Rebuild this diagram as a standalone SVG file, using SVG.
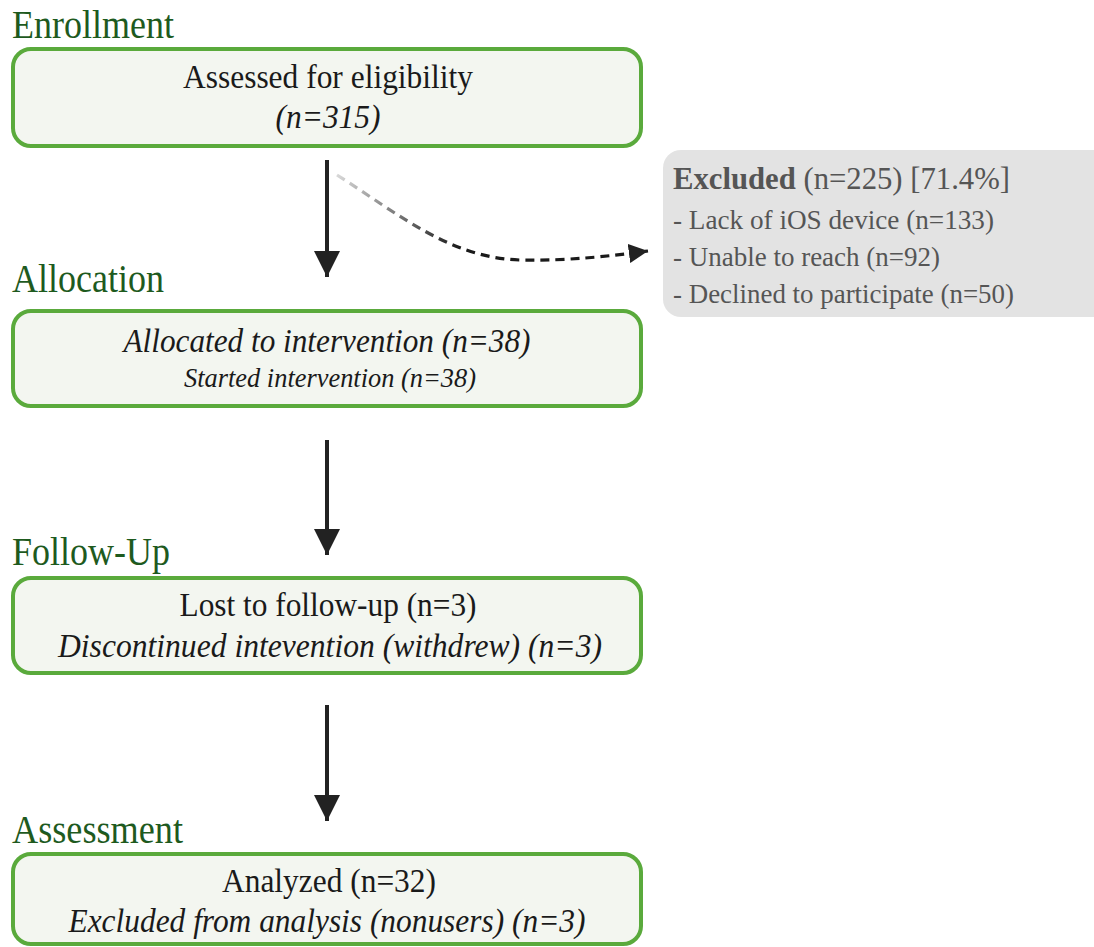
<svg xmlns="http://www.w3.org/2000/svg" width="1094" height="947" viewBox="0 0 1094 947">
<defs>
<style>
.hd{font-family:"Liberation Serif","Times New Roman",serif;font-size:39px;fill:#1e5a1e;}
.box{fill:#f3f6f0;stroke:#5aaa3c;stroke-width:4;}
.t{font-family:"Liberation Serif","Times New Roman",serif;font-size:34px;fill:#1a1a1a;text-anchor:middle;}
.it{font-style:italic;}
.ex{font-family:"Liberation Serif","Times New Roman",serif;font-size:28px;fill:#555555;}
.arr{stroke:#222222;stroke-width:4;fill:none;}
</style>
<marker id="ah" viewBox="0 0 10 10" refX="10" refY="5" markerWidth="6.5" markerHeight="6.5" markerUnits="strokeWidth" orient="auto">
<path d="M0,0 L10,5 L0,10 Z" fill="#222222"/>
</marker>
<marker id="ahs" viewBox="0 0 10 10" refX="10" refY="5" markerWidth="6" markerHeight="6" markerUnits="strokeWidth" orient="auto">
<path d="M0,0 L10,5 L0,10 Z" fill="#222222"/>
</marker>
<linearGradient id="fade" gradientUnits="userSpaceOnUse" x1="337" y1="175" x2="460" y2="248">
<stop offset="0" stop-color="#d8d8d8"/>
<stop offset="1" stop-color="#1a1a1a"/>
</linearGradient>
</defs>

<g id="connectors">
<line class="arr" x1="327" y1="160" x2="327" y2="277" marker-end="url(#ah)"/>
<line class="arr" x1="327" y1="440" x2="327" y2="555" marker-end="url(#ah)"/>
<line class="arr" x1="327" y1="705" x2="327" y2="821" marker-end="url(#ah)"/>
<path d="M337,175 C400,215 450,258 520,260 C570,261 610,256 648,251" fill="none" stroke="url(#fade)" stroke-width="3.2" stroke-dasharray="9,6" marker-end="url(#ahs)"/>
</g>

<g id="enrollment">
<text class="hd" x="12" y="38" textLength="162" lengthAdjust="spacingAndGlyphs">Enrollment</text>
<rect class="box" x="13" y="49" width="628" height="97" rx="18"/>
<text class="t" x="328" y="88" textLength="290" lengthAdjust="spacingAndGlyphs">Assessed for eligibility</text>
<text class="t it" x="328" y="128" textLength="105" lengthAdjust="spacingAndGlyphs">(n=315)</text>
</g>

<g id="excluded">
<rect x="663" y="150" width="450" height="167" rx="18" fill="#e3e3e3"/>
<text class="ex" x="673" y="189" textLength="337" lengthAdjust="spacingAndGlyphs" style="font-size:31px"><tspan font-weight="bold">Excluded</tspan> (n=225) [71.4%]</text>
<text class="ex" x="673" y="229" textLength="321" lengthAdjust="spacingAndGlyphs">- Lack of iOS device (n=133)</text>
<text class="ex" x="673" y="266" textLength="267" lengthAdjust="spacingAndGlyphs">- Unable to reach (n=92)</text>
<text class="ex" x="673" y="303" textLength="341" lengthAdjust="spacingAndGlyphs">- Declined to participate (n=50)</text>
</g>

<g id="allocation">
<text class="hd" x="12" y="292" textLength="152" lengthAdjust="spacingAndGlyphs">Allocation</text>
<rect class="box" x="13" y="311" width="628" height="95" rx="18"/>
<text class="t it" x="327" y="352" textLength="407" lengthAdjust="spacingAndGlyphs">Allocated to intervention (n=38)</text>
<text class="t it" x="330" y="387" textLength="292" lengthAdjust="spacingAndGlyphs" style="font-size:27px">Started intervention (n=38)</text>
</g>

<g id="followup">
<text class="hd" x="12" y="565" textLength="158" lengthAdjust="spacingAndGlyphs">Follow-Up</text>
<rect class="box" x="13" y="578" width="628" height="95" rx="18"/>
<text class="t" x="328" y="616" textLength="297" lengthAdjust="spacingAndGlyphs">Lost to follow-up (n=3)</text>
<text class="t it" x="330" y="657" textLength="544" lengthAdjust="spacingAndGlyphs">Discontinued intevention (withdrew) (n=3)</text>
</g>

<g id="assessment">
<text class="hd" x="12" y="843" textLength="171" lengthAdjust="spacingAndGlyphs">Assessment</text>
<rect class="box" x="13" y="854" width="628" height="90" rx="18"/>
<text class="t" x="329" y="892" textLength="214" lengthAdjust="spacingAndGlyphs">Analyzed (n=32)</text>
<text class="t it" x="327" y="932" textLength="517" lengthAdjust="spacingAndGlyphs">Excluded from analysis (nonusers) (n=3)</text>
</g>
</svg>
